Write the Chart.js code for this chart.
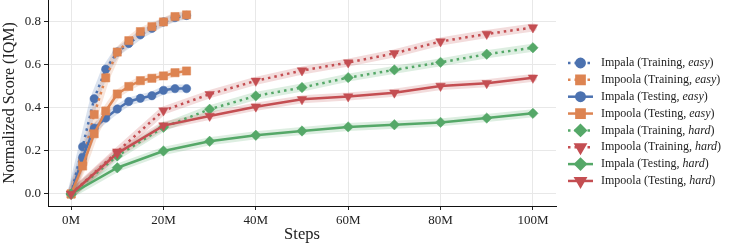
<!DOCTYPE html>
<html><head><meta charset="utf-8">
<script src="https://cdn.jsdelivr.net/npm/chart.js@4.4.1/dist/chart.umd.min.js"></script>
<style>html,body{margin:0;padding:0;background:#fff;} #wrap{width:731px;height:245px;}</style>
</head><body><div id="wrap"><canvas id="c" width="731" height="245"></canvas></div>
<script>
// ---- data (millions of steps / normalized score IQM) ----
const easySteps = [0, 2.5, 5, 7.5, 10, 12.5, 15, 17.5, 20, 22.5, 25];
const hardSteps = [0, 10, 20, 30, 40, 50, 60, 70, 80, 90, 100];
const impalaTrainEasy  = [0, 0.22, 0.443, 0.58, 0.66, 0.70, 0.74, 0.77, 0.80, 0.82, 0.83];
const impoolaTrainEasy = [0, 0.15, 0.37, 0.54, 0.66, 0.713, 0.755, 0.778, 0.80, 0.825, 0.833];
const impalaTestEasy   = [0, 0.17, 0.306, 0.353, 0.395, 0.43, 0.445, 0.457, 0.482, 0.49, 0.49];
const impoolaTestEasy  = [0, 0.13, 0.28, 0.386, 0.465, 0.50, 0.527, 0.538, 0.549, 0.564, 0.572];
const impalaTrainHard  = [0, 0.177, 0.31, 0.394, 0.456, 0.495, 0.541, 0.577, 0.612, 0.65, 0.68];
const impoolaTrainHard = [0, 0.197, 0.388, 0.464, 0.526, 0.574, 0.611, 0.654, 0.709, 0.744, 0.774];
const impalaTestHard   = [0, 0.122, 0.2, 0.245, 0.273, 0.293, 0.312, 0.322, 0.333, 0.353, 0.375];
const impoolaTestHard  = [0, 0.189, 0.318, 0.363, 0.406, 0.44, 0.453, 0.471, 0.502, 0.515, 0.54];
const xTicks = [0, 20, 40, 60, 80, 100];
const yTicks = [0, 0.2, 0.4, 0.6, 0.8];
const modelNames = ["Impala", "Impoola", "Impala", "Impoola", "Impala", "Impoola", "Impala", "Impoola"];
const phaseNames = ["Training", "Training", "Testing", "Testing", "Training", "Training", "Testing", "Testing"];
const levelNames = ["easy", "easy", "easy", "easy", "hard", "hard", "hard", "hard"];

// ---- styles ----
const BLUE = '#4C72B0', ORANGE = '#DD8452', GREEN = '#55A868', RED = '#C44E52';
const FONT = "'Liberation Serif', 'DejaVu Serif', serif";
function rgba(hex, a){const n=parseInt(hex.slice(1),16);return `rgba(${n>>16},${(n>>8)&255},${n&255},${a})`;}
const DOT = [2.5, 4];
const series = [
  {x: easySteps, y: impalaTrainEasy,  color: BLUE,   dash: DOT, style: 'circle',   r: 4.2, rot: 0},
  {x: easySteps, y: impoolaTrainEasy, color: ORANGE, dash: DOT, style: 'rect',     r: 5.8, rot: 0},
  {x: easySteps, y: impalaTestEasy,   color: BLUE,   dash: [],  style: 'circle',   r: 4.2, rot: 0},
  {x: easySteps, y: impoolaTestEasy,  color: ORANGE, dash: [],  style: 'rect',     r: 5.8, rot: 0},
  {x: hardSteps, y: impalaTrainHard,  color: GREEN,  dash: DOT, style: 'rectRot',  r: 5.2, rot: 0},
  {x: hardSteps, y: impoolaTrainHard, color: RED,    dash: DOT, style: 'triangle', r: 5.5, rot: 180},
  {x: hardSteps, y: impalaTestHard,   color: GREEN,  dash: [],  style: 'rectRot',  r: 5.2, rot: 0},
  {x: hardSteps, y: impoolaTestHard,  color: RED,    dash: [],  style: 'triangle', r: 5.5, rot: 180},
];
const pts = s => s.x.map((v, i) => ({x: v, y: s.y[i]}));
const datasets = [];
series.forEach((s, i) => {
  datasets.push({
    label: '_band' + i, data: pts(s), borderColor: rgba(s.color, 0.2), borderWidth: 8,
    pointRadius: 0, fill: false, tension: 0, order: 100 + (8 - i), clip: false, borderCapStyle: 'round', borderJoinStyle: 'round'
  });
});
series.forEach((s, i) => {
  datasets.push({
    label: modelNames[i] + ' (' + phaseNames[i] + ', ' + levelNames[i] + ')',
    data: pts(s), borderColor: s.color, backgroundColor: s.color, borderWidth: 2.5,
    borderDash: s.dash, pointStyle: s.style, pointRadius: s.r, pointRotation: s.rot,
    pointBorderWidth: 0.5, pointBackgroundColor: s.color, pointBorderColor: s.color,
    pointHoverRadius: s.r, fill: false, tension: 0, order: 8 - i, clip: false
  });
});

const legendPlugin = {
  id: 'customLegend',
  afterDraw(chart) {
    const ctx = chart.ctx;
    const x0 = 568, x1 = 593, tx = 601, y0 = 63, dy = 16.85;
    const FS = '12px ';
    series.forEach((s, i) => {
      const yy = y0 + i * dy;
      ctx.save();
      ctx.strokeStyle = s.color; ctx.lineWidth = 2.5; ctx.setLineDash(s.dash);
      ctx.beginPath(); ctx.moveTo(x0, yy); ctx.lineTo(x1, yy); ctx.stroke();
      ctx.setLineDash([]);
      ctx.fillStyle = s.color; ctx.strokeStyle = s.color;
      Chart.helpers.drawPoint(ctx, {pointStyle: s.style, radius: s.r, rotation: s.rot, borderWidth: 0.5}, (x0 + x1) / 2, yy);
      ctx.fillStyle = '#222'; ctx.textBaseline = 'middle'; ctx.textAlign = 'left';
      const pre = modelNames[i] + ' (' + phaseNames[i] + ', ';
      ctx.font = FS + FONT; ctx.fillText(pre, tx, yy);
      let w = ctx.measureText(pre).width;
      ctx.font = 'italic ' + FS + FONT; ctx.fillText(levelNames[i], tx + w, yy);
      w += ctx.measureText(levelNames[i]).width;
      ctx.font = FS + FONT; ctx.fillText(')', tx + w, yy);
      ctx.restore();
    });
  }
};
const noPad = sc => { sc.paddingTop = 0; sc.paddingBottom = 0; sc.paddingLeft = 0; sc.paddingRight = 0; };

new Chart(document.getElementById('c'), {
  type: 'line',
  data: {datasets},
  options: {
    responsive: false, animation: false, events: [],
    layout: {autoPadding: false, padding: {left: 0, right: 175, top: 0, bottom: 0}},
    plugins: {legend: {display: false}, tooltip: {enabled: false}},
    scales: {
      x: {
        type: 'linear', min: -5, max: 105,
        afterBuildTicks: sc => { sc.ticks = xTicks.map(v => ({value: v})); },
        afterFit: sc => { sc.height = 39; noPad(sc); },
        ticks: {callback: v => v + 'M', color: '#222', font: {family: FONT, size: 13}, padding: 3, maxRotation: 0},
        grid: {color: '#e8e8e8', lineWidth: 1, tickLength: 4, tickColor: '#222'},
        border: {color: '#111', width: 1},
        title: {display: true, text: 'Steps', color: '#222', font: {family: FONT, size: 16.5}, padding: {top: 0, bottom: 0}}
      },
      y: {
        type: 'linear', min: -0.0558, max: 0.902,
        afterBuildTicks: sc => { sc.ticks = yTicks.map(v => ({value: v})); },
        afterFit: sc => { sc.width = 48; noPad(sc); },
        ticks: {callback: v => v.toFixed(1), color: '#222', font: {family: FONT, size: 13}, padding: 3},
        grid: {color: '#e8e8e8', lineWidth: 1, tickLength: 4, tickColor: '#222'},
        border: {color: '#111', width: 1},
        title: {display: true, text: 'Normalized Score (IQM)', color: '#222', font: {family: FONT, size: 16}, padding: {top: 0, bottom: 1}}
      }
    }
  },
  plugins: [legendPlugin]
});
</script></body></html>
